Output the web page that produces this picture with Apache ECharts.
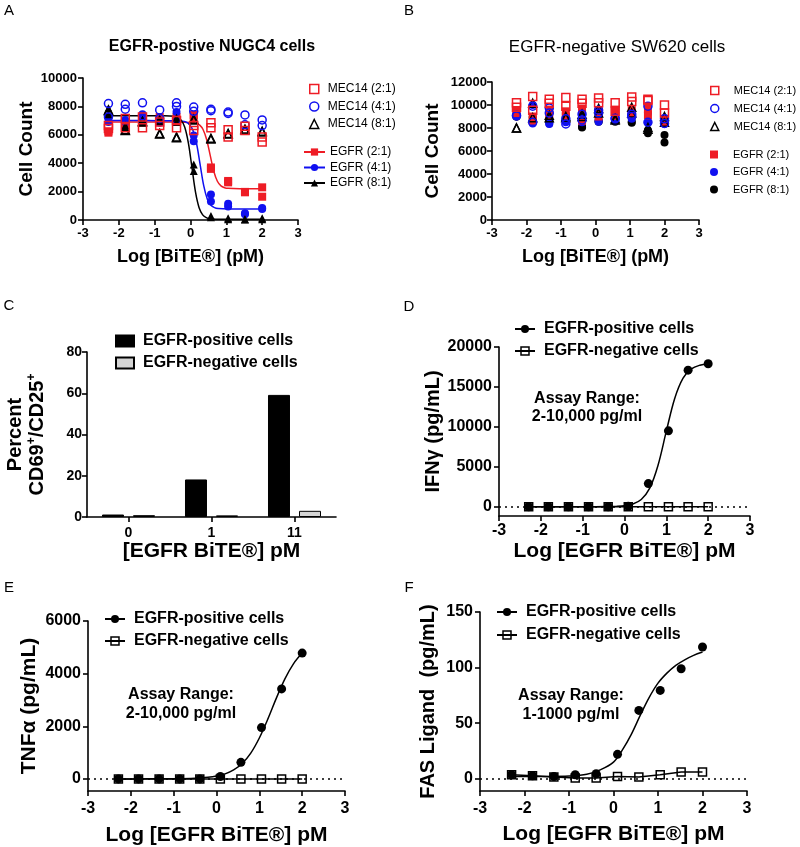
<!DOCTYPE html>
<html><head><meta charset="utf-8">
<script src="https://cdn.jsdelivr.net/npm/echarts@6/dist/echarts.min.js"></script>
<style>html,body{margin:0;padding:0;background:#fff}#c{width:800px;height:847px}</style>
</head><body><div id="c"></div><script>
// ---------- data ----------
const logDose = [-2.29, -1.82, -1.34, -0.86, -0.39, 0.09, 0.57, 1.05, 1.52, 2.0];

// Panel A (EGFR-positive NUGC4), duplicates per dose
const aMec21 = [[6650,7150,7250,6900,7000,6650,6850,6350,6600,5850],[6450,6500,6500,6650,6500,6300,6500,5850,6300,5500]];
const aMec41 = [[8200,8150,8250,7750,8250,7950,7800,7600,7400,7050],[7250,7800,7350,7150,8000,7650,7700,7500,6700,6650]];
const aMec81 = [[7750,6300,6900,6050,5800,7100,5700,6050,6400,6250],[7700,6350,6950,6100,5850,7050,5750,6100,6350,6200]];
const aEgfr21 = [[6150,6650,7150,7250,7250,7400,3700,2750,1980,2300],[6250,6750,6850,7000,6950,7250,3600,2650,1950,1640]];
const aEgfr41 = [[7200,7050,7450,7000,7600,5950,1800,1150,470,850],[6900,6900,6900,6850,6950,5550,1300,950,400,780]];
const aEgfr81 = [[7850,6650,7050,7150,7200,3900,280,120,60,120],[7450,6550,6900,6950,6900,3450,200,60,30,50]];
// fitted curves
const aFit21X = [-2.29, -1.5, -0.8, -0.3, 0.05, 0.15, 0.25, 0.35, 0.45, 0.55, 0.65, 0.75, 0.85, 0.95, 1.05, 1.4, 2.0];
const aFit21Y = [6900, 6900, 6898, 6890, 6872, 6825, 6698, 6374, 5669, 4550, 3431, 2726, 2402, 2275, 2228, 2205, 2200];
const aFit41X = [-2.29, -1.5, -0.9, -0.5, -0.23, -0.13, -0.03, 0.07, 0.17, 0.27, 0.37, 0.47, 0.57, 0.67, 0.77, 1.1, 1.5, 2.0];
const aFit41Y = [7000, 7000, 6998, 6990, 6963, 6900, 6732, 6302, 5368, 3885, 2402, 1468, 1038, 870, 807, 775, 771, 770];
const aFit81X = [-2.29, -1.7, -1.2, -0.8, -0.46, -0.36, -0.26, -0.16, -0.06, 0.04, 0.14, 0.24, 0.34, 0.44, 0.54, 0.9, 1.4, 2.0];
const aFit81Y = [7350, 7350, 7348, 7340, 7306, 7233, 7036, 6532, 5437, 3700, 1963, 868, 364, 167, 94, 55, 51, 50];

// Panel B (EGFR-negative SW620)
const bMec21 = [[10200,10750,10500,10650,10500,10600,10200,10700,10500,10000],[9800,9550,10150,9900,10150,10200,9450,10300,10400,9300]];
const bMec41 = [[9100,9900,9750,8800,9200,9550,8850,9000,9900,8800],[9050,8500,9300,8350,8700,9300,8800,9200,8500,8400]];
const bMec81 = [[8000,10150,9100,9000,9200,9700,8800,9800,8050,9000],[8000,8900,8900,8900,9000,9300,8700,9300,7900,8500]];
const bEgfr21 = [[9550,9000,9600,9450,9700,9550,9600,9550,9650,8800],[9300,8650,9100,9000,8650,9000,9050,9200,9100,8450]];
const bEgfr41 = [[9100,10000,8400,9000,9150,8700,8700,9050,9300,8700],[9050,8400,8350,8500,8500,8550,8600,8800,8450,8350]];
const bEgfr81 = [[9000,8950,8600,8700,8100,8600,8600,8550,7800,7400],[9000,8600,8500,8600,8050,8550,8550,8450,7550,6750]];

// Panel C
const cCats = ['0', '1', '11'];
const cPos = [1.2, 18.2, 59.2];
const cNeg = [0.9, 0.8, 3.0];

// Panel D (IFNγ)
const dPos = [0, 0, 0, 0, 0, 60, 2900, 9500, 17100, 17900];
const dNeg = [0, 0, 0, 0, 0, 0, 0, 0, 0, 0];
const dFitX = [-2.29, -1.6, -1.0, -0.4, -0.2, 0, 0.2, 0.4, 0.6, 0.8, 1.0, 1.2, 1.4, 1.6, 1.8, 2.0];
const dFitY = [0, 0, 2, 17, 45, 125, 340, 905, 2290, 5170, 9460, 13560, 16100, 17260, 17720, 17910];

// Panel E (TNFα)
const ePos = [0, 0, 0, 0, 0, 90, 630, 1950, 3420, 4780];
const eNeg = [0, 0, 0, 0, 0, 0, 0, 0, 0, 0];
const eFitX = [-2.29, -1.6, -1.0, -0.5, -0.2, 0, 0.2, 0.4, 0.6, 0.8, 1.0, 1.2, 1.4, 1.6, 1.8, 2.0];
const eFitY = [0, 1, 6, 25, 60, 107, 192, 340, 587, 980, 1555, 2280, 3080, 3810, 4380, 4780];

// Panel F (FAS Ligand)
const fPos = [3.6, 2.7, 2.0, 3.6, 4.5, 22, 61.5, 79.5, 99, 118.5];
const fNeg = [3.6, 2.7, 1.5, 0.6, 0.6, 2.0, 1.5, 3.6, 6.0, 6.0];
const fFitX = [-2.29, -1.6, -1.0, -0.6, -0.3, 0, 0.2, 0.4, 0.6, 0.8, 1.0, 1.2, 1.4, 1.6, 1.8, 2.0];
const fFitY = [2, 2.1, 2.5, 4, 8, 15, 26, 40, 57, 73, 86, 95, 102, 107, 111, 114];

const dTicks = [0, 5000, 10000, 15000, 20000];
const eTicks = [0, 2000, 4000, 6000];
const fTicks = [0, 50, 100, 150];

// ---------- helpers ----------
const FONT = "'Liberation Sans', Arial, Helvetica, sans-serif";
const RED = '#ee1c25', BLUE = '#1010f0', BLACK = '#000';
function pts(xs, reps) { const o = []; reps.forEach(r => r.forEach((v, i) => o.push([xs[i], v]))); return o; }
function pairs(xs, ys) { return xs.map((x, i) => [x, ys[i]]); }
const hollow = c => ({ color: 'rgba(0,0,0,0)', borderColor: c, borderWidth: 1.5, opacity: 1 });
const solid = c => ({ color: c, opacity: 1 });
const fmt = n => n.split('|')[1];

function axis(g, o) {
  const a = {
    gridIndex: g, type: o.cat ? 'category' : 'value',
    axisLine: { show: true, onZero: false, lineStyle: { color: '#000', width: 1.6 } },
    axisTick: { show: true, length: 5, alignWithLabel: true, lineStyle: { color: '#000', width: 1.6 } },
    axisLabel: { color: '#000', fontFamily: FONT, fontWeight: 'bold', fontSize: o.ls, margin: o.lm },
    splitLine: { show: false },
    name: o.name, nameLocation: 'middle', nameGap: o.ng,
    nameTextStyle: { color: '#000', fontFamily: FONT, fontWeight: 'bold', fontSize: o.ns },
  };
  if (o.cat) a.data = o.cat; else a.axisLabel.formatter = v => String(v);
  if (o.min !== undefined) a.min = o.min;
  if (o.max !== undefined) a.max = o.max;
  if (o.interval !== undefined) a.interval = o.interval;
  if (o.custom) { a.axisTick.customValues = o.custom; a.axisLabel.customValues = o.custom; }
  if (o.rich) a.nameTextStyle.rich = o.rich;
  return a;
}

const series = [];
function scatter(name, g, data, sym, size, style, z) {
  series.push({ name, type: 'scatter', xAxisIndex: g, yAxisIndex: g, data, symbol: sym, symbolSize: size, itemStyle: style, z: z || 3 });
}
function curve(name, g, data, color, sym) {
  series.push({ name, type: 'line', xAxisIndex: g, yAxisIndex: g, data, smooth: 0.35,
    showSymbol: false, symbol: sym, symbolSize: 8, itemStyle: { color, opacity: 1 }, lineStyle: { color, width: 1.5 }, z: 2 });
}

// Panel A
curve('A|EGFR (2:1)', 0, pairs(aFit21X, aFit21Y), RED, 'rect');
curve('A|EGFR (4:1)', 0, pairs(aFit41X, aFit41Y), BLUE, 'circle');
curve('A|EGFR (8:1)', 0, pairs(aFit81X, aFit81Y), BLACK, 'triangle');
scatter('A|e21', 0, pts(logDose, aEgfr21), 'rect', 8, solid(RED));
scatter('A|e41', 0, pts(logDose, aEgfr41), 'circle', 8, solid(BLUE));
scatter('A|e81', 0, pts(logDose, aEgfr81), 'triangle', 8, solid(BLACK));
scatter('A|MEC14 (8:1)', 0, pts(logDose, aMec81), 'triangle', 8, hollow(BLACK), 4);
scatter('A|MEC14 (4:1)', 0, pts(logDose, aMec41), 'circle', 8, hollow(BLUE), 4);
scatter('A|MEC14 (2:1)', 0, pts(logDose, aMec21), 'rect', 8, hollow(RED), 4);

// Panel B
scatter('B|EGFR (8:1)', 1, pts(logDose, bEgfr81), 'circle', 8, solid(BLACK));
scatter('B|EGFR (4:1)', 1, pts(logDose, bEgfr41), 'circle', 8, solid(BLUE));
scatter('B|EGFR (2:1)', 1, pts(logDose, bEgfr21), 'rect', 8, solid(RED));
scatter('B|MEC14 (8:1)', 1, pts(logDose, bMec81), 'triangle', 8, hollow(BLACK), 4);
scatter('B|MEC14 (4:1)', 1, pts(logDose, bMec41), 'circle', 8, hollow(BLUE), 4);
scatter('B|MEC14 (2:1)', 1, pts(logDose, bMec21), 'rect', 8, hollow(RED), 4);

// Panel C
series.push({ name: 'C|EGFR-positive cells', type: 'bar', xAxisIndex: 2, yAxisIndex: 2, data: cPos, barWidth: 22, barGap: '41%',
  itemStyle: { color: '#000', borderColor: '#000', borderWidth: 1 } });
series.push({ name: 'C|EGFR-negative cells', type: 'bar', xAxisIndex: 2, yAxisIndex: 2, data: cNeg, barWidth: 22,
  itemStyle: { color: '#d4d4d4', borderColor: '#000', borderWidth: 1 } });

// Panels D, E, F
function cyto(p, g, pos, neg, fx, fy) {
  curve(p + '|EGFR-positive cells', g, pairs(fx, fy), BLACK, 'circle');
  scatter(p + '|ptsPos', g, pairs(logDose, pos), 'circle', 9, solid(BLACK));
  series.push({ name: p + '|EGFR-negative cells', type: 'line', xAxisIndex: g, yAxisIndex: g, data: pairs(logDose, neg),
    symbol: 'rect', symbolSize: 8, showSymbol: true, itemStyle: hollow(BLACK), lineStyle: { color: '#000', width: 1.5 }, z: 4,
    markLine: { silent: true, symbol: ['none', 'none'], label: { show: false },
      lineStyle: { color: '#000', type: [2, 4], width: 1.5 }, data: [{ yAxis: 0 }] } });
}
cyto('D', 3, dPos, dNeg, dFitX, dFitY);
cyto('E', 4, ePos, eNeg, eFitX, eFitY);
cyto('F', 5, fPos, fNeg, fFitX, fFitY);

// ---------- layout ----------
const grid = [
  { left: 83, top: 78, width: 215, height: 142 },
  { left: 492, top: 82, width: 207, height: 138 },
  { left: 87, top: 352, width: 249, height: 165 },
  { left: 499, top: 347, width: 251, height: 169 },
  { left: 88, top: 621, width: 257, height: 170 },
  { left: 480, top: 612, width: 267, height: 179 },
];
const xAxis = [
  axis(0, { min: -3, max: 3, interval: 1, ls: 13, lm: 7, name: 'Log [BiTE®] (pM)', ng: 28, ns: 18 }),
  axis(1, { min: -3, max: 3, interval: 1, ls: 13, lm: 7, name: 'Log [BiTE®] (pM)', ng: 28, ns: 18 }),
  axis(2, { cat: cCats, ls: 14, lm: 9, name: '[EGFR BiTE®] pM', ng: 22, ns: 21 }),
  axis(3, { min: -3, max: 3, interval: 1, ls: 16, lm: 7, name: 'Log [EGFR BiTE®] pM', ng: 25, ns: 21 }),
  axis(4, { min: -3, max: 3, interval: 1, ls: 16, lm: 10, name: 'Log [EGFR BiTE®] pM', ng: 34, ns: 21 }),
  axis(5, { min: -3, max: 3, interval: 1, ls: 16, lm: 10, name: 'Log [EGFR BiTE®] pM', ng: 33, ns: 21 }),
];
const yAxis = [
  axis(0, { min: 0, max: 10000, interval: 2000, ls: 13, lm: 6, name: 'Cell Count', ng: 47, ns: 19 }),
  axis(1, { min: 0, max: 12000, interval: 2000, ls: 13, lm: 5, name: 'Cell Count', ng: 50, ns: 19 }),
  axis(2, { min: 0, max: 80, interval: 20, ls: 14, lm: 5, ng: 39, ns: 20,
    name: '{a|Percent}\n{a|CD69}{s|+}{a|/CD25}{s|+}',
    rich: { a: { fontSize: 20, fontWeight: 'bold', fontFamily: FONT, color: '#000', lineHeight: 22 },
            s: { fontSize: 12, fontWeight: 'bold', fontFamily: FONT, color: '#000', verticalAlign: 'top', lineHeight: 22 } } }),
  axis(3, { min: -1160, max: 20000, custom: dTicks, ls: 16, lm: 7, name: 'IFNγ (pg/mL)', ng: 56, ns: 20 }),
  axis(4, { min: -460, max: 6000, custom: eTicks, ls: 16, lm: 7, name: 'TNFα (pg/mL)', ng: 48, ns: 21 }),
  axis(5, { min: -11, max: 150, custom: fTicks, ls: 16, lm: 7, name: 'FAS Ligand  (pg/mL)', ng: 42, ns: 20 }),
];

const lt = { fontFamily: FONT, color: '#000' };
const big = Object.assign({ fontSize: 16, fontWeight: 'bold', padding: [0, 0, 0, 4] }, lt);
const smallA = Object.assign({ fontSize: 12, padding: [0, 0, 0, 4] }, lt);
const smallB = Object.assign({ fontSize: 11, padding: [0, 0, 0, 10] }, lt);
const legend = [
  { orient: 'vertical', left: 304, top: 78, itemWidth: 9, itemHeight: 9, itemGap: 5.5, textStyle: smallA, formatter: fmt,
    data: [{ name: 'A|MEC14 (2:1)', icon: 'rect', itemStyle: hollow(RED) },
           { name: 'A|MEC14 (4:1)', icon: 'circle', itemStyle: hollow(BLUE) },
           { name: 'A|MEC14 (8:1)', icon: 'triangle', itemStyle: hollow(BLACK) }] },
  { orient: 'vertical', left: 298, top: 141, itemWidth: 21, itemHeight: 9, itemGap: 3.5, textStyle: Object.assign({}, smallA, { padding: [0, 0, 0, 0] }), formatter: fmt,
    data: ['A|EGFR (2:1)', 'A|EGFR (4:1)', 'A|EGFR (8:1)'] },
  { orient: 'vertical', left: 705, top: 80, itemWidth: 8, itemHeight: 8, itemGap: 7, textStyle: smallB, formatter: fmt,
    data: [{ name: 'B|MEC14 (2:1)', icon: 'rect', itemStyle: hollow(RED) },
           { name: 'B|MEC14 (4:1)', icon: 'circle', itemStyle: hollow(BLUE) },
           { name: 'B|MEC14 (8:1)', icon: 'triangle', itemStyle: hollow(BLACK) }] },
  { orient: 'vertical', left: 705, top: 144, itemWidth: 8, itemHeight: 8, itemGap: 6.5, textStyle: smallB, formatter: fmt,
    data: [{ name: 'B|EGFR (2:1)', icon: 'rect', itemStyle: solid(RED) },
           { name: 'B|EGFR (4:1)', icon: 'circle', itemStyle: solid(BLUE) },
           { name: 'B|EGFR (8:1)', icon: 'circle', itemStyle: solid(BLACK) }] },
  { orient: 'vertical', left: 110, top: 328, itemWidth: 18, itemHeight: 11, itemGap: 6, textStyle: big, formatter: fmt,
    data: [{ name: 'C|EGFR-positive cells', icon: 'rect' }, { name: 'C|EGFR-negative cells', icon: 'rect' }] },
  { orient: 'vertical', left: 509, top: 316, itemWidth: 20, itemHeight: 10, itemGap: 6, textStyle: big, formatter: fmt,
    data: ['D|EGFR-positive cells', { name: 'D|EGFR-negative cells', itemStyle: hollow(BLACK) }] },
  { orient: 'vertical', left: 99, top: 606, itemWidth: 20, itemHeight: 10, itemGap: 6, textStyle: big, formatter: fmt,
    data: ['E|EGFR-positive cells', { name: 'E|EGFR-negative cells', itemStyle: hollow(BLACK) }] },
  { orient: 'vertical', left: 491, top: 599, itemWidth: 20, itemHeight: 10, itemGap: 7, textStyle: big, formatter: fmt,
    data: ['F|EGFR-positive cells', { name: 'F|EGFR-negative cells', itemStyle: hollow(BLACK) }] },
];

function txt(x, y, text, size, weight, lh) {
  return { type: 'text', x, y, silent: true, style: { text, fontSize: size, fontWeight: weight || 'normal', fontFamily: FONT,
    fill: '#000', align: 'center', verticalAlign: 'middle', lineHeight: lh || size } };
}
const graphic = [
  txt(9, 11, 'A', 15), txt(409, 11, 'B', 15), txt(9, 306, 'C', 15), txt(409, 307, 'D', 15), txt(9, 588, 'E', 15), txt(409, 588, 'F', 15),
  txt(212, 47, 'EGFR-postive NUGC4 cells', 16, 'bold'),
  txt(617, 47, 'EGFR-negative SW620 cells', 17, 'normal'),
  txt(587, 407.5, 'Assay Range:\n2-10,000 pg/ml', 16, 'bold', 18.5),
  txt(181, 704.5, 'Assay Range:\n2-10,000 pg/ml', 16, 'bold', 19),
  txt(571, 705.5, 'Assay Range:\n1-1000 pg/ml', 16, 'bold', 19),
];

const chart = echarts.init(document.getElementById('c'), null, { renderer: 'canvas' });
chart.setOption({ animation: false, backgroundColor: '#fff', textStyle: { fontFamily: FONT },
  grid, xAxis, yAxis, series, legend, graphic });
</script></body></html>
